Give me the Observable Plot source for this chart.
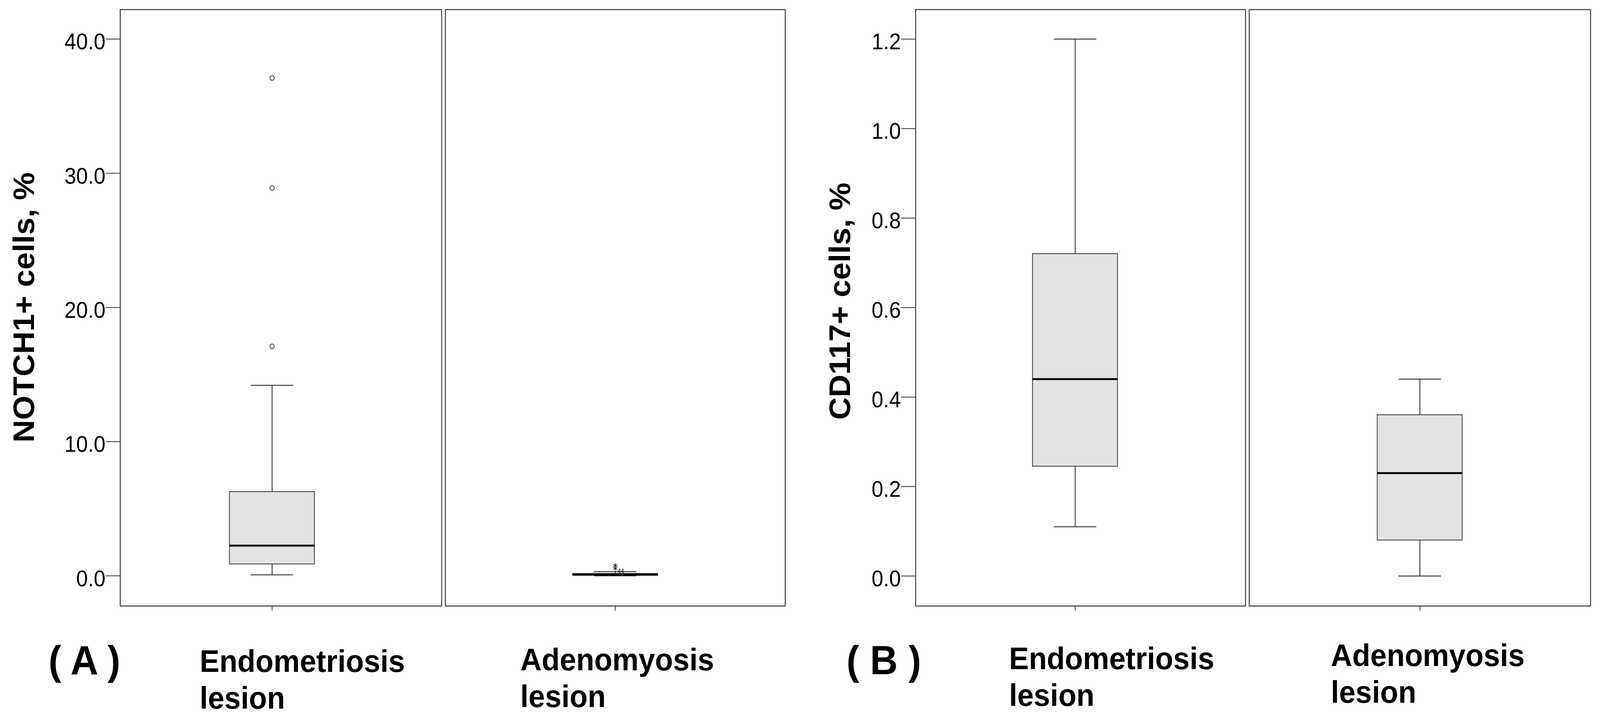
<!DOCTYPE html>
<html>
<head>
<meta charset="utf-8">
<script src="https://cdn.jsdelivr.net/npm/d3@7"></script>
<script src="https://cdn.jsdelivr.net/npm/@observablehq/plot@0.6"></script>
<style>
  html, body { margin: 0; padding: 0; background: #fff; overflow: hidden; }
  #fig { display: flex; width: 4331px; height: 1837px; overflow: hidden; transform-origin: 0 0; }
  #fig svg { flex: none; overflow: visible; }
</style>
</head>
<body>
<div id="fig"></div>
<script>
// ---- data ----
const categories = ["Endometriosis lesion", "Adenomyosis lesion"];

// Panel A: NOTCH1+ cells, %
const notchMin    = [0.07, 0.0];
const notchQ1     = [0.87, 0.02];
const notchMedian = [2.25, 0.10];
const notchQ3     = [6.26, 0.16];
const notchMax    = [14.2, 0.31];
const notchOutliers = [37.1, 28.9, 17.1];   // circles, endometriosis
const notchExtremes = [0.77, 0.56];         // asterisks, adenomyosis
const notchExtremeCase = "44";
const notchTicks = [0, 10, 20, 30, 40];
const notchTitle = "NOTCH1+ cells, %";

// Panel B: CD117+ cells, %
const cd117Min    = [0.11, 0.0];
const cd117Q1     = [0.245, 0.08];
const cd117Median = [0.44, 0.23];
const cd117Q3     = [0.72, 0.36];
const cd117Max    = [1.2, 0.44];
const cd117Ticks = [0, 0.2, 0.4, 0.6, 0.8, 1.0, 1.2];
const cd117Title = "CD117+ cells, %";

const panelLabels = ["( A )", "( B )"];

// ---- drawing ----
const FONT = "'Liberation Sans', Arial, Helvetica, sans-serif";
const BOX_W = 230;

function facet(cfg) {
  const s = cfg.stats;
  const i = cfg.i;
  const cat = categories[i];
  const row = [{cat, min: s.min[i], q1: s.q1[i], med: s.med[i], q3: s.q3[i], max: s.max[i]}];
  const plotW = cfg.width - cfg.ml - cfg.mr;
  const pad = (plotW / BOX_W - 1) / 2;
  const marks = [
    Plot.frame({stroke: "#333", strokeWidth: 2.5}),
    Plot.ruleX(row, {x: "cat", y1: "min", y2: "max", stroke: "#111", strokeWidth: 2}),
    Plot.barY(row, {x: "cat", y1: "q1", y2: "q3", fill: "#e3e3e3", stroke: "#333", strokeWidth: 2}),
    Plot.tickY(row, {x: "cat", y: "med", stroke: "#000", strokeWidth: 5}),
    Plot.tickY(row, {x: "cat", y: "min", stroke: "#111", strokeWidth: 2, insetLeft: BOX_W / 4, insetRight: BOX_W / 4}),
    Plot.tickY(row, {x: "cat", y: "max", stroke: "#111", strokeWidth: 2, insetLeft: BOX_W / 4, insetRight: BOX_W / 4}),
    // x ticks
    Plot.axisX({tickSize: 12, fill: "none", stroke: "#333", strokeWidth: 2, label: null}),
    // x category labels
    Plot.axisX({tickSize: 0, tickPadding: 12 + cfg.labelPad, fontSize: 80, fontWeight: "bold",
                textAnchor: "start", dx: cfg.labelDx, lineHeight: 1.18, fill: "#000",
                tickFormat: d => d.replace(" ", "\n"), label: null})
  ];
  if (cfg.outliers) {
    marks.push(Plot.dot(cfg.outliers.map(v => ({cat, v})),
      {x: "cat", y: "v", r: 6, stroke: "#222", strokeWidth: 1.8, fill: "white"}));
  }
  if (cfg.extremes) {
    const ex = cfg.extremes.map(v => ({cat, v}));
    marks.push(Plot.dot(ex, {x: "cat", y: "v", symbol: "asterisk", r: 6, stroke: "#111", strokeWidth: 1.6}));
    marks.push(Plot.text([ex[ex.length - 1]], {x: "cat", y: "v", text: () => cfg.extremeCase,
      dx: 6, dy: 13, textAnchor: "start", lineAnchor: "bottom", fontSize: 16, fill: "#111"}));
  }
  if (cfg.ticks) {
    marks.push(Plot.axisY({ticks: cfg.ticks, tickSize: 39, fill: "none", stroke: "#333", strokeWidth: 2, label: null}));
    marks.push(Plot.axisY({ticks: cfg.ticks, tickSize: 0, tickPadding: 40, dy: 8, fontSize: 57,
      fill: "#000", tickFormat: d3.format(".1f"), label: null}));
    marks.push(Plot.text([cfg.title], {text: d => d, frameAnchor: "left", dx: cfg.titleDx, dy: cfg.titleDy,
      rotate: -90, textAnchor: "middle", lineAnchor: "bottom", fontSize: 80, fontWeight: "bold", fill: "#000"}));
    marks.push(Plot.text([cfg.panel], {text: d => d, frameAnchor: "bottom-left", dx: cfg.panelDx, dy: 174,
      textAnchor: "middle", lineAnchor: "bottom", fontSize: 104, fontWeight: "bold", fill: "#000"}));
  }
  return Plot.plot({
    width: cfg.width,
    height: 1837,
    marginTop: 24,
    marginBottom: 287,
    marginLeft: cfg.ml,
    marginRight: cfg.mr,
    style: {fontFamily: FONT, background: "#fff", overflow: "visible", color: "#000"},
    x: {type: "band", domain: [cat], paddingInner: 0, paddingOuter: pad, align: cfg.align, round: false},
    y: {domain: cfg.yDomain, ...(cfg.ticks ? {} : {axis: null})},
    marks
  });
}

const notchStats = {min: notchMin, q1: notchQ1, med: notchMedian, q3: notchQ3, max: notchMax};
const cd117Stats = {min: cd117Min, q1: cd117Q1, med: cd117Median, q3: cd117Q3, max: cd117Max};

const fig = document.getElementById("fig");
fig.append(facet({width: 1200, ml: 325, mr: 5, align: 0.4625, i: 0, stats: notchStats, yDomain: [-2.25, 42.2],
  ticks: notchTicks, title: notchTitle, titleDx: -234, titleDy: -1, panel: panelLabels[0], panelDx: -97,
  labelDx: -196, labelPad: 89, outliers: notchOutliers}));
fig.append(facet({width: 930, ml: 5, mr: 5, align: 0.5, i: 1, stats: notchStats, yDomain: [-2.25, 42.2],
  labelDx: -257, labelPad: 85, extremes: notchExtremes, extremeCase: notchExtremeCase}));
fig.append(facet({width: 1246, ml: 348, mr: 5, align: 0.478, i: 0, stats: cd117Stats, yDomain: [-0.067, 1.266],
  ticks: cd117Ticks, title: cd117Title, titleDx: -178, titleDy: -17, panel: panelLabels[1], panelDx: -86,
  labelDx: -179, labelPad: 82}));
fig.append(facet({width: 955, ml: 5, mr: 26, align: 0.5, i: 1, stats: cd117Stats, yDomain: [-0.067, 1.266],
  labelDx: -241, labelPad: 74}));

// fit the 4331×1837 figure into whatever viewport the page is given
function fit() {
  const vw = document.documentElement.clientWidth || window.innerWidth;
  const vh = document.documentElement.clientHeight || window.innerHeight;
  let sx = vw / 4331, sy = vh / 1837;
  if (!(sx > 0) || !isFinite(sx)) sx = 1;
  if (!(sy > 0) || !isFinite(sy)) sy = 1;
  fig.style.transform = (Math.abs(sx - 1) < 0.002 && Math.abs(sy - 1) < 0.002) ? "" : `scale(${sx}, ${sy})`;
}
fit();
window.addEventListener("resize", fit);
</script>
</body>
</html>
